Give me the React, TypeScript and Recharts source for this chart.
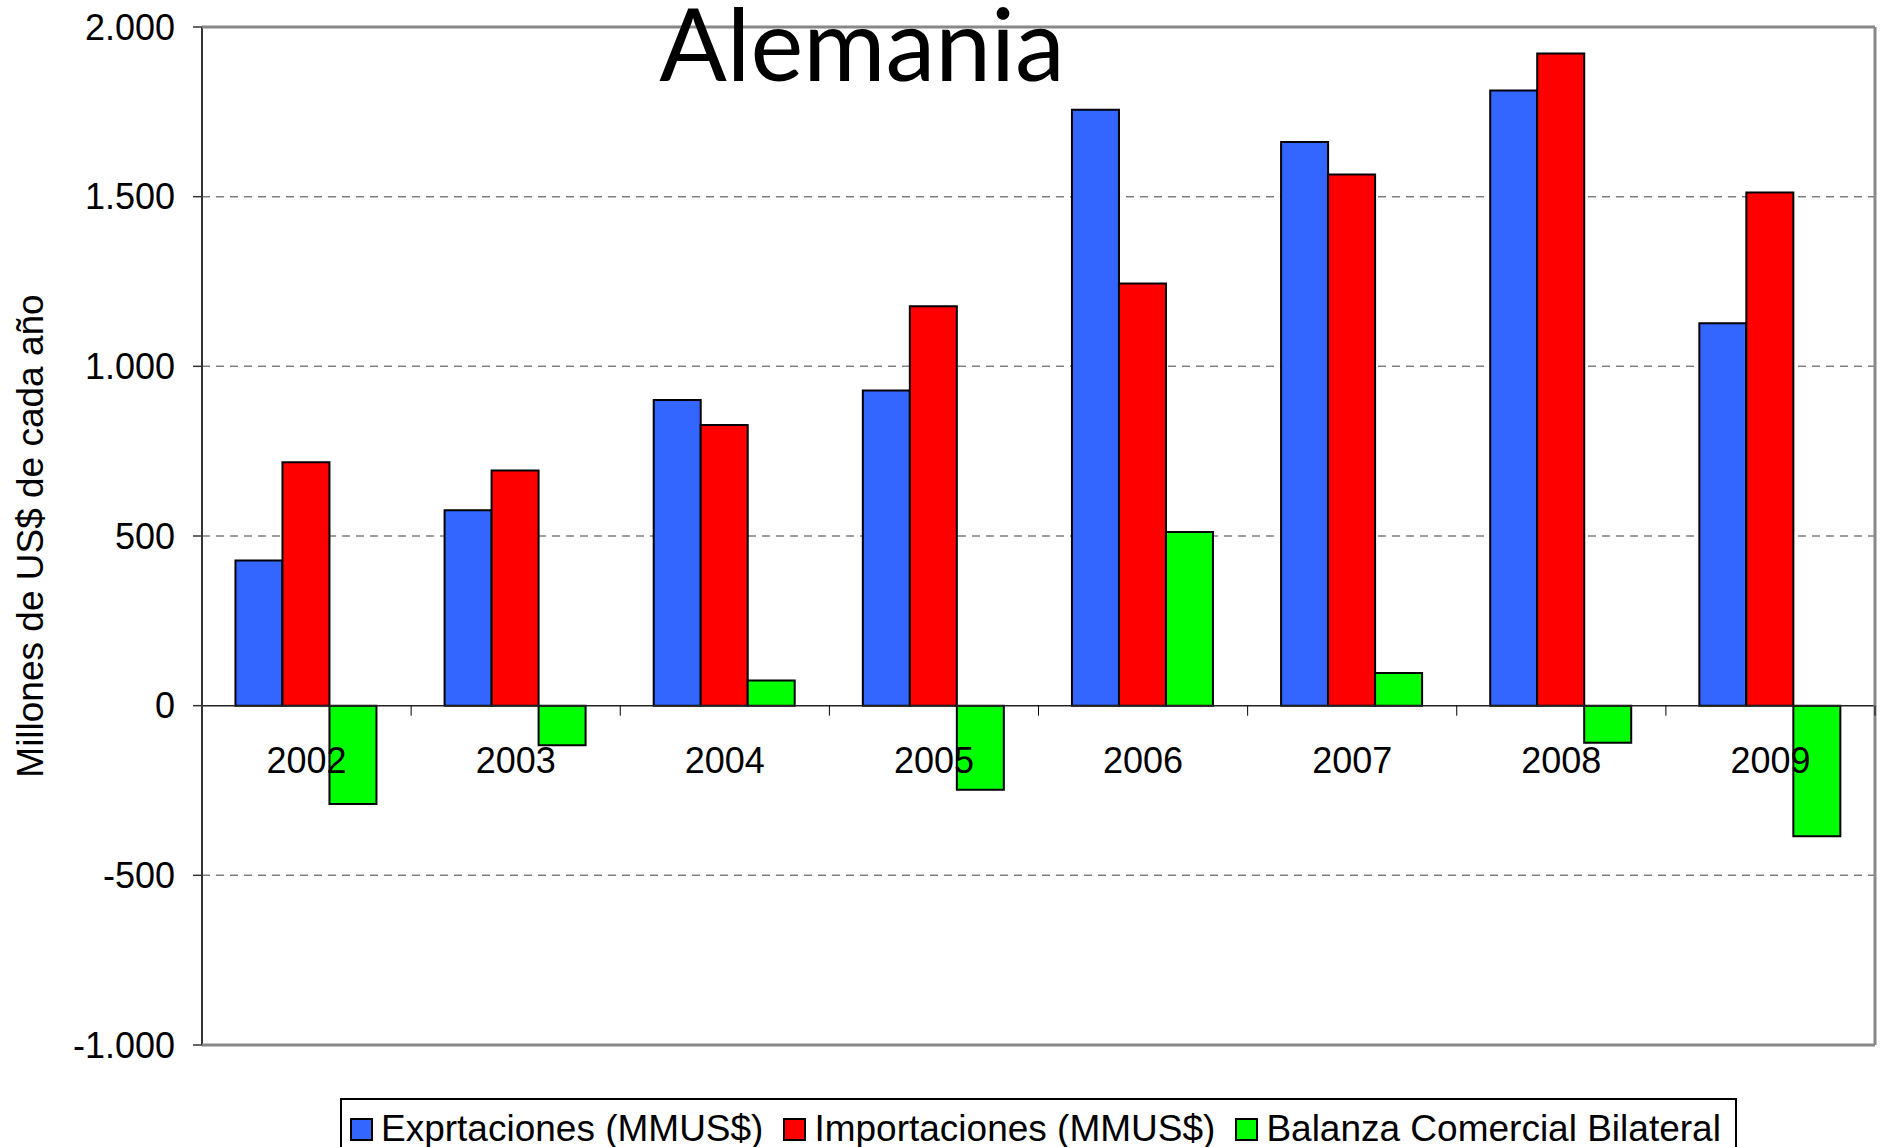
import React from "react";
import { BarChart, Bar, XAxis, YAxis, CartesianGrid, ReferenceLine, Legend } from "recharts";

const years = ["2002", "2003", "2004", "2005", "2006", "2007", "2008", "2009"];
const exportaciones = [428, 576, 901, 929, 1756, 1661, 1813, 1127];
const importaciones = [717, 693, 827, 1177, 1244, 1565, 1922, 1512];
const balanza = [-290, -117, 74, -248, 512, 96, -109, -385];
const yTicks = [-1000, -500, 0, 500, 1000, 1500, 2000];
const gridTicks = [-500, 500, 1000, 1500];

const seriesNames = ["Exprtaciones (MMUS$)", "Importaciones (MMUS$)", "Balanza Comercial Bilateral"];
const seriesColors = ["#3366FF", "#FF0000", "#00FF00"];

const data = years.map((year, i) => ({
    year,
    exp: exportaciones[i],
    imp: importaciones[i],
    bal: balanza[i],
}));

const W = 1881;
const H = 1147;
const MARGIN = { top: 26, right: 5, left: 0, bottom: 100 };
const Y_AXIS_W = 202;
const X_AXIS_H = 2;
const Y_MIN = -1000;
const Y_MAX = 2000;
const FONT = "'Liberation Sans', Arial, sans-serif";

const plotTop = MARGIN.top + 1;
const plotH = H - plotTop - MARGIN.bottom - X_AXIS_H;
const plotW = W - MARGIN.left - MARGIN.right - 1 - Y_AXIS_W;
const zeroY = plotTop + (plotH * Y_MAX) / (Y_MAX - Y_MIN);
const band = plotW / years.length;

function fmt(v: number) {
    const s = Math.abs(v).toString().replace(/\B(?=(\d{3})+(?!\d))/g, ".");
    return v < 0 ? "-" + s : s;
}

// category labels sit under the zero line, not under the plot bottom
function YearTick(props: any) {
    const { x, payload } = props;
    return (
        <g>
            <line x1={x + band / 2} x2={x + band / 2} y1={zeroY} y2={zeroY + 10} stroke="#000" strokeWidth={1} />
            <text x={x} y={zeroY + 67} textAnchor="middle" fontSize={36} fontFamily={FONT} fill="#000">
                {payload.value}
            </text>
        </g>
    );
}

function LegendBox() {
    return (
        <div
            style={{
                border: "2px solid #000",
                background: "#fff",
                height: 60,
                display: "flex",
                alignItems: "flex-start",
                paddingLeft: 8,
                paddingTop: 9,
                boxSizing: "border-box",
                fontFamily: FONT,
                fontSize: 37,
                color: "#000",
                whiteSpace: "nowrap",
            }}
        >
            {seriesNames.map((name, i) => (
                <div key={name} style={{ display: "flex", alignItems: "center", marginRight: 20 }}>
                    <span
                        style={{
                            display: "inline-block",
                            width: 19,
                            height: 19,
                            background: seriesColors[i],
                            border: "2px solid #000",
                            marginRight: 8,
                        }}
                    />
                    <span style={{ lineHeight: "40px" }}>{name}</span>
                </div>
            ))}
        </div>
    );
}

export default function App() {
    return (
        <div style={{ position: "absolute", left: 0, top: 0, width: W, height: H, background: "#fff" }}>
            <BarChart width={W} height={H} data={data} margin={MARGIN} barCategoryGap="16%" barGap={0}>
                <CartesianGrid
                    horizontal
                    vertical={false}
                    horizontalValues={gridTicks}
                    strokeDasharray="8 6"
                    stroke="#808080"
                    strokeWidth={1.5}
                />
                <YAxis
                    domain={[Y_MIN, Y_MAX]}
                    ticks={yTicks}
                    width={Y_AXIS_W}
                    tickFormatter={fmt}
                    tickSize={9}
                    tickMargin={18}
                    axisLine={{ stroke: "#333", strokeWidth: 2 }}
                    tickLine={{ stroke: "#333", strokeWidth: 1.5 }}
                    tick={{ fontSize: 36, fontFamily: FONT, fill: "#000" }}
                    interval={0}
                    label={{
                        value: "Millones de US$ de cada año",
                        angle: -90,
                        position: "insideLeft",
                        offset: 30,
                        style: { textAnchor: "middle", fontSize: 37, fontFamily: FONT, fill: "#000" },
                    }}
                />
                <YAxis
                    yAxisId="right"
                    orientation="right"
                    domain={[Y_MIN, Y_MAX]}
                    width={1}
                    tick={false}
                    tickLine={false}
                    axisLine={{ stroke: "#888", strokeWidth: 3 }}
                />
                <XAxis
                    xAxisId="top"
                    orientation="top"
                    dataKey="year"
                    height={1}
                    tick={false}
                    tickLine={false}
                    axisLine={{ stroke: "#888", strokeWidth: 3 }}
                />
                <Bar dataKey="exp" name={seriesNames[0]} fill={seriesColors[0]} stroke="#000" strokeWidth={2} isAnimationActive={false} />
                <Bar dataKey="imp" name={seriesNames[1]} fill={seriesColors[1]} stroke="#000" strokeWidth={2} isAnimationActive={false} />
                <Bar dataKey="bal" name={seriesNames[2]} fill={seriesColors[2]} stroke="#000" strokeWidth={2} isAnimationActive={false} />
                <ReferenceLine y={0} stroke="#222" strokeWidth={1.5} />
                <XAxis
                    dataKey="year"
                    height={X_AXIS_H}
                    interval={0}
                    tickLine={false}
                    axisLine={{ stroke: "#888", strokeWidth: 3 }}
                    tick={<YearTick />}
                />
                <Legend
                    layout="horizontal"
                    align="center"
                    verticalAlign="middle"
                    content={() => <LegendBox />}
                    wrapperStyle={{ left: 340, top: 1098, width: 1397, height: 60 }}
                />
            </BarChart>
            <div
                style={{
                    position: "absolute",
                    left: 862,
                    top: 2,
                    transform: "translateX(-50%)",
                    fontFamily: "Lato, 'Open Sans', sans-serif",
                    fontSize: 100,
                    lineHeight: "80px",
                    color: "#000",
                    whiteSpace: "nowrap",
                }}
            >
                Alemania
            </div>
        </div>
    );
}
